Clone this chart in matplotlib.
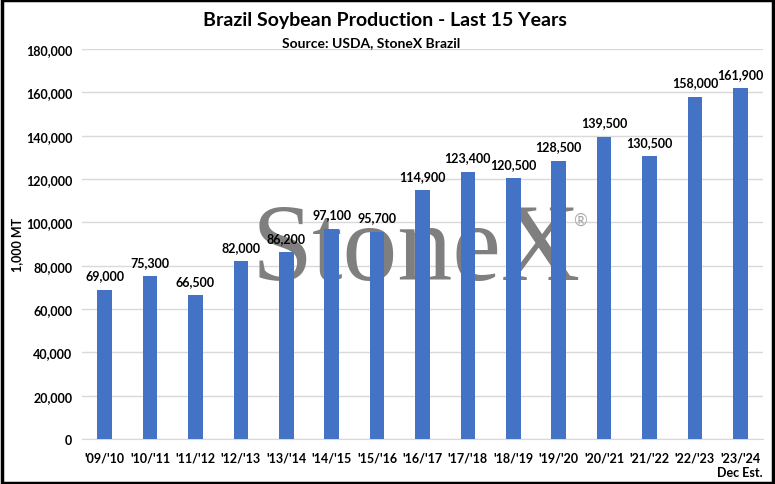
import numpy as np
import matplotlib.pyplot as plt

seasons = ["'09/'10", "'10/'11", "'11/'12", "'12/'13", "'13/'14", "'14/'15", "'15/'16",
           "'16/'17", "'17/'18", "'18/'19", "'19/'20", "'20/'21", "'21/'22", "'22/'23",
           "'23/'24\nDec Est."]
production = [69000, 75300, 66500, 82000, 86200, 97100, 95700,
              114900, 123400, 120500, 128500, 139500, 130500, 158000, 161900]

plt.rcParams['font.family'] = ['Lato', 'DejaVu Sans']

fig = plt.figure(figsize=(7.75, 4.85), dpi=100)
ax = fig.add_axes([0.1058, 0.0928, 0.8787, 0.804])

x = np.arange(len(seasons))
ax.bar(x, production, width=0.32, color='#4472C4', zorder=3)
for xi, v in zip(x, production):
    ax.text(xi, v + 3800, f'{v:,}', ha='center', va='bottom', fontsize=9,
            fontweight='bold', zorder=4)

ax.set_ylim(0, 180000)
ax.set_xlim(-0.5, len(seasons) - 0.5)
ax.set_yticks(np.arange(0, 180001, 20000))
ax.yaxis.set_major_formatter(plt.FuncFormatter(lambda v, p: f'{int(v):,}'))
ax.set_xticks(x)
ax.set_xticklabels(seasons, va='top', linespacing=1.3)
ax.tick_params(axis='y', length=0, labelsize=9, pad=7)
ax.tick_params(axis='x', length=0, labelsize=9, pad=9)
for lab in ax.get_xticklabels() + ax.get_yticklabels():
    lab.set_fontweight('bold')
ax.grid(axis='y', color='#d9d9d9', linewidth=1, zorder=0)
for s in ax.spines.values():
    s.set_visible(False)
ax.spines['bottom'].set_visible(True)
ax.spines['bottom'].set_color('#d9d9d9')

ax.set_ylabel('1,000 MT', fontsize=9, fontweight='bold')
ax.yaxis.set_label_coords(-0.086, 0.5)

# watermark behind bars
ax.text(0.491, 0.41, 'StoneX', transform=ax.transAxes, fontsize=79,
        family='Liberation Serif', color='#7f7f7f', ha='center', va='baseline', zorder=2)
ax.text(0.731, 0.562, '®', transform=ax.transAxes, fontsize=12, color='#a6a6a6',
        ha='center', va='center', zorder=2)

fig.text(0.497, 0.957, 'Brazil Soybean Production - Last 15 Years', ha='center', va='center',
         fontsize=14, fontweight='bold')
fig.text(0.479, 0.911, 'Source: USDA, StoneX Brazil', ha='center', va='center',
         fontsize=10, fontweight='bold')

fig.patches.append(plt.Rectangle((0.002, 0.003), 0.996, 0.994, transform=fig.transFigure,
                                 fill=False, edgecolor='black', linewidth=2.5))

fig.savefig('out.png', dpi=100)
